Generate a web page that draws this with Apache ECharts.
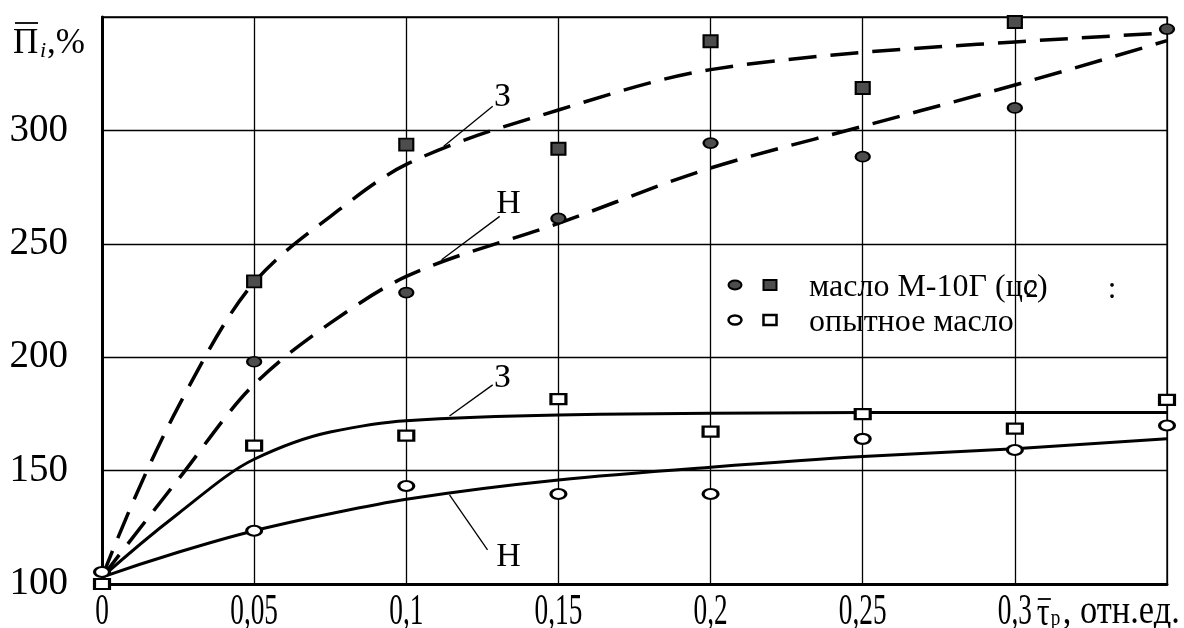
<!DOCTYPE html>
<html>
<head>
<meta charset="utf-8">
<script src="https://cdn.jsdelivr.net/npm/echarts@6/dist/echarts.min.js"></script>
<style>
html,body{margin:0;padding:0;background:#fff;}
#chart{width:1184px;height:628px;}
</style>
</head>
<body>
<div id="chart"></div>
<script>
// ---- data ----
const xVals = [0, 0.05, 0.1, 0.15, 0.2, 0.25, 0.3, 0.35];
const m10Squares  = [null, 233.4, 293.7, 291.9, 339.3, 318.7, 347.8, null]; // масло М-10Г, З
const m10Circles  = [null, 198, 228.5, 261.2, 294.4, 288.4, 309.9, 344.7]; // масло М-10Г, Н
const testSquares = [100, 161, 165.4, 181.5, 167.2, 174.9, 168.5, 181.2];  // опытное масло, З
const testCircles = [105.3, 123.5, 143.2, 139.7, 139.7, 164, 159.1, 169.9]; // опытное масло, Н

// points
const fitX     = [0, 0.025, 0.05, 0.075, 0.1, 0.15, 0.2, 0.25, 0.3, 0.35];
const fitM10Z  = [103, 178, 233, 262, 285, 309, 326.8, 334.4, 339, 343];
const fitM10H  = [103, 146, 188, 215, 235.6, 259, 283.4, 301.8, 320, 339.6];
const fitTestZ = [103, 131, 155, 167, 172, 174.5, 175.3, 175.6, 175.6, 175.6];
const fitTestH = [103, 114, 123.5, 131, 137.4, 145.9, 151.5, 156.2, 159.6, 164];

const xTicks = [0, 0.05, 0.1, 0.15, 0.2, 0.25, 0.3];
const xTickLabels = ['0', '0,05', '0,1', '0,15', '0,2', '0,25', '0,3'];
const yTickLabels = ['100', '150', '200', '250', '300'];

const curveLabels = ['З', 'Н', 'З', 'Н'];
const leaderFrom = [[0.1123, 293], [0.1116, 243], [0.1142, 174.1], [0.1142, 139.3]];
const leaderTo   = [[0.1284, 310.6], [0.1307, 262.1], [0.1284, 187.8], [0.1267, 115]];
const labelAt    = [[0.1316, 314.5], [0.1336, 267.3], [0.1316, 191], [0.1336, 111.9]];

// ---- helpers ----
const pairs = (xs, ys) => xs.map((x, i) => [x, ys[i]]).filter(p => p[1] != null);
const ELLIPSE = 'path://M0,1A1,1,0,1,1,2,1A1,1,0,1,1,0,1Z';
const SERIF = 'Liberation Serif, Times New Roman, serif';

const chart = echarts.init(document.getElementById('chart'), null, {renderer: 'canvas'});

// shape-preserving cubic (PCHIP) drawn as bezier path via the axes' coord mapping
function endSlope(h0, h1, d0, d1) {
  let m = ((2 * h0 + h1) * d0 - h0 * d1) / (h0 + h1);
  if (Math.sign(m) !== Math.sign(d0)) m = 0;
  else if (Math.sign(d0) !== Math.sign(d1) && Math.abs(m) > Math.abs(3 * d0)) m = 3 * d0;
  return m;
}
function curvePath(api, xs, ys) {
  const n = xs.length, h = [], d = [], m = [];
  for (let i = 0; i < n - 1; i++) { h[i] = xs[i + 1] - xs[i]; d[i] = (ys[i + 1] - ys[i]) / h[i]; }
  for (let i = 1; i < n - 1; i++) {
    if (d[i - 1] * d[i] <= 0) { m[i] = 0; continue; }
    const w1 = 2 * h[i] + h[i - 1], w2 = h[i] + 2 * h[i - 1];
    m[i] = (w1 + w2) / (w1 / d[i - 1] + w2 / d[i]);
  }
  m[0] = endSlope(h[0], h[1], d[0], d[1]);
  m[n - 1] = endSlope(h[n - 2], h[n - 3], d[n - 2], d[n - 3]);
  const f = p => p[0].toFixed(2) + ' ' + p[1].toFixed(2);
  let s = 'M' + f(api.coord([xs[0], ys[0]]));
  for (let i = 0; i < n - 1; i++) {
    const c1 = api.coord([xs[i] + h[i] / 3, ys[i] + m[i] * h[i] / 3]);
    const c2 = api.coord([xs[i + 1] - h[i] / 3, ys[i + 1] - m[i + 1] * h[i] / 3]);
    const p = api.coord([xs[i + 1], ys[i + 1]]);
    s += ' C' + f(c1) + ' ' + f(c2) + ' ' + f(p);
  }
  return s;
}
function fitLine(name, ys, dashed) {
  return {
    name, type: 'custom', coordinateSystem: 'cartesian2d', silent: true, z: 3,
    data: [[fitX[0], ys[0]]],
    renderItem: (params, api) => ({
      type: 'path',
      shape: {pathData: curvePath(api, fitX, ys)},
      style: {fill: 'none', stroke: '#000', lineWidth: dashed ? 3.5 : 3, lineDash: dashed ? [28, 14] : null, lineCap: 'butt'}
    })
  };
}
function marks(name, ys, symbol, size, fill, bw) {
  return {
    name, type: 'scatter', data: pairs(xVals, ys), symbol, symbolSize: size, z: 5,
    itemStyle: {color: fill, borderColor: '#000', borderWidth: bw, opacity: 1}
  };
}

chart.setOption({
  animation: false,
  backgroundColor: '#fff',
  grid: {left: 102, top: 17, right: 17, bottom: 44, show: true, borderColor: '#000', borderWidth: 1.3, containLabel: false},
  xAxis: {
    type: 'value', min: 0, max: 0.35, interval: 0.05,
    axisLine: {show: true, onZero: false, lineStyle: {color: '#000', width: 3}},
    axisTick: {show: false}, axisLabel: {show: false},
    splitLine: {show: true, lineStyle: {color: '#000', width: 1.3}}
  },
  yAxis: {
    type: 'value', min: 100, max: 350, interval: 50,
    axisLine: {show: true, onZero: false, lineStyle: {color: '#000', width: 3}},
    axisTick: {show: false},
    axisLabel: {
      fontFamily: SERIF, fontSize: 39, color: '#000', margin: 34,
      formatter: v => { const i = Math.round((v - 100) / 50); return yTickLabels[i] || ''; }
    },
    splitLine: {show: true, lineStyle: {color: '#000', width: 1.3}}
  },
  series: [
    fitLine('М-10Г З', fitM10Z, true),
    fitLine('М-10Г Н', fitM10H, true),
    fitLine('опытное З', fitTestZ, false),
    fitLine('опытное Н', fitTestH, false),
    marks('М-10Г З точки', m10Squares, 'rect', [14, 12], '#4d4d4d', 2),
    marks('М-10Г Н точки', m10Circles, ELLIPSE, [14, 10], '#4d4d4d', 2),
    marks('опытное З точки', testSquares, 'rect', [15, 10], '#fff', 2.6),
    marks('опытное Н точки', testCircles, ELLIPSE, [15, 10], '#fff', 2.6)
  ]
});

// ---- annotations, tick labels (condensed), legend ----
const px = p => chart.convertToPixel({gridIndex: 0}, p);
const graphics = [];
function txt(x, y, text, size, opts) {
  opts = opts || {};
  return {
    type: 'text', x, y, scaleX: opts.scaleX || 1, z: 10, silent: true,
    style: {
      text, fill: '#000', font: (opts.italic ? 'italic ' : '') + size + 'px ' + SERIF,
      align: opts.align || 'center', verticalAlign: 'middle',
      textAlign: opts.align || 'center', textVerticalAlign: 'middle'
    }
  };
}
function bar(x1, x2, y) {
  return {type: 'line', z: 10, silent: true, shape: {x1, y1: y, x2, y2: y}, style: {stroke: '#000', lineWidth: 1.8}};
}

const axisY = px([0, 100])[1];
xTicks.forEach((t, i) => {
  const p = px([t, 100]);
  graphics.push(txt(p[0], axisY + 28, xTickLabels[i], 44, {scaleX: 0.62}));
});
// x-axis name: τ̄р, отн.ед.  (bar over τ drawn as a line)
const xNameX = px([0.3, 100])[0] + 22;
graphics.push(txt(xNameX, axisY + 30, 'τ', 40, {align: 'left', scaleX: 0.8}));
graphics.push(bar(xNameX + 1, xNameX + 14, axisY + 15));
graphics.push(txt(xNameX + 14, axisY + 35, 'р', 24, {align: 'left', scaleX: 0.8}));
graphics.push(txt(xNameX + 26, axisY + 28, ', отн.ед.', 40, {align: 'left', scaleX: 0.86}));

// y-axis name: Π̄i,%  (bar over Π drawn as a line)
graphics.push(txt(13, 44, 'Π', 35, {align: 'left'}));
graphics.push(bar(15, 38, 23));
graphics.push(txt(40, 51, 'i', 22, {align: 'left', italic: true}));
graphics.push(txt(47, 44, ',%', 35, {align: 'left'}));

// curve labels with leader lines
curveLabels.forEach((lab, i) => {
  const a = px(leaderFrom[i]), b = px(leaderTo[i]), c = px(labelAt[i]);
  graphics.push({type: 'line', z: 9, silent: true, shape: {x1: a[0], y1: a[1], x2: b[0], y2: b[1]}, style: {stroke: '#000', lineWidth: 1.3}});
  graphics.push(txt(c[0], c[1], lab, 34));
});

// legend
const lg = [
  {y: 285, fill: '#4d4d4d', bw: 2, text: 'масло М-10Г (цс)'},
  {y: 320, fill: '#fff', bw: 2.5, text: 'опытное масло'}
];
lg.forEach(r => {
  graphics.push({type: 'ellipse', z: 10, silent: true, shape: {cx: 735, cy: r.y, rx: 6.5, ry: 4.5}, style: {fill: r.fill, stroke: '#000', lineWidth: r.bw}});
  graphics.push({type: 'rect', z: 10, silent: true, shape: {x: 763.5, y: r.y - 5, width: 13, height: 10}, style: {fill: r.fill, stroke: '#000', lineWidth: r.bw}});
  graphics.push(txt(809, r.y + 3, r.text, 32, {align: 'left'}));
});
graphics.push(txt(1032, 290, '2', 26));
graphics.push(txt(1112, 290, ':', 31));

chart.setOption({graphic: graphics});
</script>
</body>
</html>
